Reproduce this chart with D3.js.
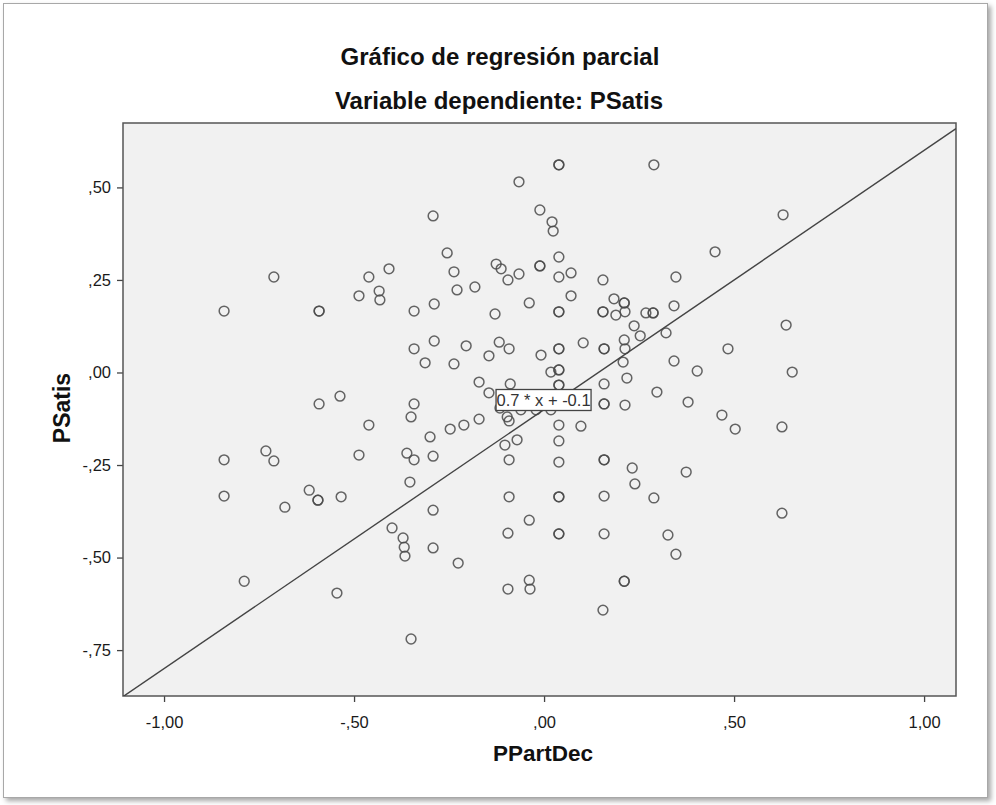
<!DOCTYPE html>
<html>
<head>
  <meta charset="utf-8">
  <title>Gráfico de regresión parcial</title>
  <style>
    body { margin: 0; background: #fff; }
    svg { display: block; font-family: "Liberation Sans", Arial, sans-serif; }
  </style>
</head>
<body>
  <script src="https://d3js.org/d3.v7.min.js"></script>
  <script type="text/javascript">

// PPartDec (x) and PSatis (y) residuals
var xVals = [-0.066, 0.039, 0.039, 0.289, -0.292, -0.011, 0.021, 0.024, 0.45, 0.629,
  -0.711, -0.842, -0.592, -0.592, -0.255, -0.408, -0.461, -0.487, -0.434, -0.432,
  -0.237, -0.229, -0.182, -0.126, -0.113, -0.095, -0.066, -0.011, -0.011, -0.289,
  -0.342, -0.129, -0.039, 0.039, 0.039, 0.071, 0.155, 0.347, 0.071, 0.184,
  0.211, 0.211, 0.342, 0.039, 0.039, 0.155, 0.155, 0.189, 0.213, 0.268,
  0.287, 0.287, -0.289, -0.342, -0.313, -0.205, -0.237, -0.118, -0.092, -0.145,
  -0.008, -0.537, -0.171, -0.089, -0.145, -0.342, -0.35, -0.461, -0.116, -0.061,
  -0.097, -0.092, -0.171, -0.211, -0.247, -0.30, -0.487, -0.361, -0.342, -0.292,
  -0.103, -0.071, -0.092, -0.353, -0.534, -0.092, -0.292, 0.237, 0.253, 0.321,
  0.211, 0.213, 0.103, 0.039, 0.039, 0.158, 0.158, 0.484, 0.208, 0.342,
  0.403, 0.018, 0.039, 0.039, 0.218, 0.039, 0.039, 0.158, 0.297, 0.379,
  0.158, 0.158, 0.213, 0.018, -0.021, 0.468, 0.503, 0.039, 0.097, 0.039,
  0.039, 0.158, 0.158, 0.232, 0.374, 0.239, 0.039, 0.039, 0.158, 0.289,
  0.637, 0.653, 0.626, 0.626, -0.592, -0.842, -0.732, -0.711, -0.842, -0.618,
  -0.595, -0.595, -0.682, -0.789, -0.40, -0.371, -0.368, -0.366, -0.292, -0.226,
  -0.545, -0.35, -0.095, -0.039, -0.095, -0.039, -0.037, 0.039, 0.039, 0.158,
  0.326, 0.347, 0.211, 0.211, 0.155];

var yVals = [0.515, 0.561, 0.561, 0.561, 0.423, 0.439, 0.407, 0.382, 0.326, 0.426,
  0.258, 0.166, 0.166, 0.166, 0.323, 0.280, 0.258, 0.207, 0.220, 0.196,
  0.272, 0.223, 0.231, 0.293, 0.280, 0.25, 0.266, 0.288, 0.288, 0.185,
  0.166, 0.158, 0.188, 0.312, 0.258, 0.269, 0.25, 0.258, 0.207, 0.199,
  0.188, 0.188, 0.180, 0.164, 0.164, 0.164, 0.164, 0.155, 0.164, 0.161,
  0.161, 0.161, 0.085, 0.064, 0.026, 0.072, 0.023, 0.082, 0.064, 0.045,
  0.047, -0.064, -0.026, -0.031, -0.055, -0.085, -0.120, -0.142, -0.096, -0.101,
  -0.120, -0.131, -0.126, -0.142, -0.153, -0.174, -0.223, -0.218, -0.236, -0.226,
  -0.196, -0.182, -0.236, -0.296, -0.336, -0.336, -0.372, 0.126, 0.099, 0.107,
  0.088, 0.064, 0.080, 0.064, 0.064, 0.064, 0.064, 0.064, 0.028, 0.031,
  0.004, 0.001, 0.007, 0.007, -0.015, -0.034, -0.034, -0.031, -0.053, -0.080,
  -0.085, -0.085, -0.088, -0.101, -0.101, -0.115, -0.153, -0.142, -0.145, -0.185,
  -0.242, -0.236, -0.236, -0.258, -0.269, -0.301, -0.336, -0.336, -0.334, -0.339,
  0.128, 0.001, -0.147, -0.380, -0.085, -0.236, -0.212, -0.239, -0.334, -0.318,
  -0.345, -0.345, -0.364, -0.564, -0.420, -0.447, -0.472, -0.496, -0.474, -0.515,
  -0.596, -0.720, -0.434, -0.399, -0.585, -0.561, -0.585, -0.436, -0.436, -0.436,
  -0.439, -0.491, -0.564, -0.564, -0.642];

var xTicks = [-1, -0.5, 0, 0.5, 1];
var yTicks = [-0.75, -0.5, -0.25, 0, 0.25, 0.5];
var slope = 0.7, intercept = -0.1;

var width = 996, height = 805;
var plot = { left: 123, right: 956, top: 123, bottom: 696 };

var x = d3.scaleLinear().domain([-1.108, 1.084]).range([plot.left, plot.right]);
var y = d3.scaleLinear().domain([-0.874, 0.674]).range([plot.bottom, plot.top]);

var locale = d3.formatLocale({ decimal: ",", thousands: ".", grouping: [3], currency: ["", ""], minus: "-" });
var fmt = function(v) {
  return locale.format(".2f")(v).replace(/^(-?)0,/, "$1,");
};

var svg = d3.select("body").append("svg")
    .attr("width", width)
    .attr("height", height);

var defs = svg.append("defs");
var shadow = defs.append("filter").attr("id", "shadow")
    .attr("x", "-5%").attr("y", "-5%").attr("width", "110%").attr("height", "110%");
shadow.append("feDropShadow")
    .attr("dx", 3).attr("dy", 3).attr("stdDeviation", 2.5)
    .attr("flood-color", "#000").attr("flood-opacity", 0.35);
defs.append("clipPath").attr("id", "plotclip").append("rect")
    .attr("x", plot.left).attr("y", plot.top)
    .attr("width", plot.right - plot.left).attr("height", plot.bottom - plot.top);

// outer frame
svg.append("rect")
    .attr("x", 3.5).attr("y", 3.5)
    .attr("width", 984).attr("height", 794)
    .attr("fill", "#fff")
    .attr("stroke", "#a8a8a8")
    .attr("filter", "url(#shadow)");

// titles
svg.append("text")
    .attr("x", 500).attr("y", 65)
    .attr("text-anchor", "middle")
    .style("font-size", "24px").style("font-weight", "bold").style("fill", "#111")
    .text("Gráfico de regresión parcial");
svg.append("text")
    .attr("x", 499).attr("y", 109)
    .attr("text-anchor", "middle")
    .style("font-size", "24px").style("font-weight", "bold").style("fill", "#111")
    .text("Variable dependiente: PSatis");

// plot background
svg.append("rect")
    .attr("x", plot.left).attr("y", plot.top)
    .attr("width", plot.right - plot.left).attr("height", plot.bottom - plot.top)
    .attr("fill", "#f1f1f1");

// axes
var xAxis = svg.append("g")
    .attr("transform", "translate(0," + plot.bottom + ")")
    .call(d3.axisBottom(x).tickValues(xTicks).tickSize(6).tickSizeOuter(0).tickPadding(14).tickFormat(fmt));
var yAxis = svg.append("g")
    .attr("transform", "translate(" + plot.left + ",0)")
    .call(d3.axisLeft(y).tickValues(yTicks).tickSize(6).tickSizeOuter(0).tickPadding(6).tickFormat(fmt));
[xAxis, yAxis].forEach(function(g) {
  g.select(".domain").remove();
  g.selectAll(".tick line").attr("stroke", "#444").attr("stroke-width", 1.3);
  g.selectAll(".tick text")
      .style("font-family", "\"Liberation Sans\", Arial, sans-serif")
      .style("font-size", "16.5px").style("fill", "#1a1a1a");
});

// plot border
svg.append("rect")
    .attr("x", plot.left).attr("y", plot.top)
    .attr("width", plot.right - plot.left).attr("height", plot.bottom - plot.top)
    .attr("fill", "none")
    .attr("stroke", "#555").attr("stroke-width", 1.5);

// axis titles
svg.append("text")
    .attr("x", 543).attr("y", 761)
    .attr("text-anchor", "middle")
    .style("font-size", "22.5px").style("font-weight", "bold").style("fill", "#111")
    .text("PPartDec");
svg.append("text")
    .attr("transform", "translate(70,408) rotate(-90)")
    .attr("text-anchor", "middle")
    .style("font-size", "23px").style("font-weight", "bold").style("fill", "#111")
    .text("PSatis");

var inner = svg.append("g").attr("clip-path", "url(#plotclip)");

// points
inner.selectAll(".pt")
    .data(d3.range(xVals.length))
    .enter().append("circle")
    .attr("class", "pt")
    .attr("cx", function(i) { return x(xVals[i]); })
    .attr("cy", function(i) { return y(yVals[i]); })
    .attr("r", 4.9)
    .attr("fill", "none")
    .attr("stroke", "#4a4a4a")
    .attr("stroke-width", 1.5)
    .attr("stroke-opacity", 0.85);

// fit line
var xd = x.domain();
inner.append("line")
    .attr("x1", x(xd[0])).attr("y1", y(slope * xd[0] + intercept))
    .attr("x2", x(xd[1])).attr("y2", y(slope * xd[1] + intercept))
    .attr("stroke", "#444").attr("stroke-width", 1.4);

// equation label
var lab = svg.append("g");
lab.append("rect")
    .attr("x", x(0) - 48).attr("y", y(intercept) - 20)
    .attr("width", 95).attr("height", 21)
    .attr("fill", "#fff").attr("stroke", "#444").attr("stroke-width", 1.3);
lab.append("text")
    .attr("x", x(0) - 0.5).attr("y", y(intercept) - 3.5)
    .attr("text-anchor", "middle")
    .style("font-size", "16.5px").style("fill", "#333")
    .text(slope + " * x + " + intercept);

  </script>
</body>
</html>
